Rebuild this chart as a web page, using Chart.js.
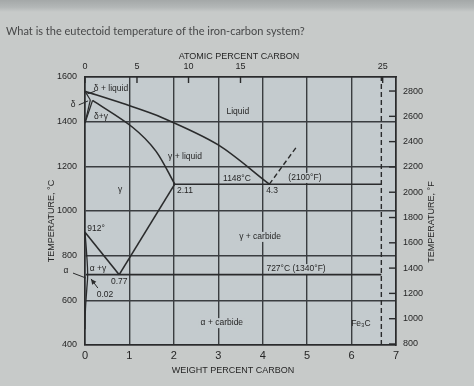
<!DOCTYPE html>
<html><head><meta charset="utf-8">
<script src="https://cdn.jsdelivr.net/npm/chart.js@4"></script>
<style>html,body{margin:0;padding:0;background:#c7cac9;overflow:hidden}canvas{display:block}</style>
</head><body>
<canvas id="c" width="474" height="386"></canvas>
<script>
// ---- tick labels ----
const weightTicks = [0,1,2,3,4,5,6,7];
const celsiusTicks = [400,600,800,1000,1200,1400,1600];
const fahrenheitTicks = [800,1000,1200,1400,1600,1800,2000,2200,2400,2600,2800];
const atomicLabels = ['0','5','10','15','25'];
const atomicWt = [0,1.17,2.33,3.5,6.7];

// ---- phase boundaries (wt% C, °C) ----
const liquidusWt = [0,0.84,1.74,3.0,4.15];
const liquidusT  = [1536,1482,1418,1296,1120];
const solidusWt  = [0.17,1.07,1.6,2.02];
const solidusT   = [1495,1375,1267,1120];
const deltaSolidusWt = [0,0.12];
const deltaSolidusT  = [1536,1497];
const deltaGammaAWt = [0.12,0];
const deltaGammaAT  = [1497,1394];
const deltaGammaBWt = [0.17,0];
const deltaGammaBT  = [1495,1394];
const eutecticWt = [2.02,6.67];
const eutecticT  = [1120,1120];
const eutectoidWt = [0.02,6.67];
const eutectoidT  = [715,715];
const a3Wt = [0,0.77];
const a3T  = [905,715];
const acmWt = [0.77,2.02];
const acmT  = [715,1120];
const alphaSolvusWt = [0,0.04,0.06,0.04,0.01,0];
const alphaSolvusT  = [905,800,715,650,560,470];
const cementiteLiqWt = [4.15,4.76];
const cementiteLiqT  = [1120,1287];
const cementiteWt = [6.67,6.67];
const cementiteT  = [400,1600];

// ---- annotations ----
const labelTexts = ['δ + liquid','δ+γ','δ','Liquid','γ + liquid','γ','2.11','1148°C','4.3','(2100°F)','912°','α +γ','0.77','0.02','γ + carbide','727°C (1340°F)','α + carbide','Fe₃C','α'];
const labelWt = [0.585,0.36,-0.27,3.44,2.25,0.79,2.25,3.42,4.21,4.95,0.25,0.29,0.77,0.45,3.94,4.75,3.08,6.21,-0.43];
const labelT  = [1546,1421,1475,1443,1242,1094,1092,1143,1092,1148,919,744,683,624,884,740,498,494,731];
const labelBox = [false,false,false,false,false,false,false,false,true,true,false,false,false,false,true,true,true,false,false];
const leaderWt = [[-0.14,0.07],[0.23,0.05],[-0.27,0.02],[0.29,0.135]];
const leaderT  = [[1475,1493],[1537,1524],[722,700],[655,696]];

const pts = (xs, ys) => xs.map((x,i)=>({x:x, y:ys[i]}));
const LINE = '#2a2b2c', GRID = '#3a3d40', TXT = '#262626';
const PAGE = '#c7cac9', PLOT = '#c4cbce';
const FONT = '"Liberation Sans", Arial, sans-serif';

function ds(xs, ys, opt){
  return Object.assign({data: pts(xs,ys), showLine:true, pointRadius:0, borderColor:LINE, borderWidth:1.6, fill:false, tension:0}, opt||{});
}

const bgPlugin = {
  id:'bg',
  beforeDraw(chart){
    const c = chart.ctx, a = chart.chartArea;
    c.save();
    c.fillStyle = PAGE; c.fillRect(0,0,chart.width,chart.height);
    const g = c.createLinearGradient(0,0,0,12);
    g.addColorStop(0,'#a4a8a8'); g.addColorStop(0.6,'#b3b7b7'); g.addColorStop(1,PAGE);
    c.fillStyle = g; c.fillRect(0,0,chart.width,12);
    c.fillStyle = PLOT; c.fillRect(a.left,a.top,a.right-a.left,a.bottom-a.top);
    c.restore();
  },
  beforeDatasetsDraw(chart){
    const c = chart.ctx, xs = chart.scales.x, ys = chart.scales.y;
    c.save();
    c.font = '8.5px ' + FONT;
    c.textAlign='center'; c.textBaseline='middle';
    labelTexts.forEach((t,i)=>{
      const px = xs.getPixelForValue(labelWt[i]), py = ys.getPixelForValue(labelT[i]);
      if(labelBox[i]){
        const w = c.measureText(t).width;
        c.fillStyle = PLOT; c.fillRect(px-w/2-2, py-5, w+4, 10);
      }
      c.fillStyle = TXT;
      c.fillText(t, px, py);
    });
    c.strokeStyle = LINE; c.lineWidth = 1;
    leaderWt.forEach((l,i)=>{
      const x0 = xs.getPixelForValue(l[0]), y0 = ys.getPixelForValue(leaderT[i][0]);
      const x1 = xs.getPixelForValue(l[1]), y1 = ys.getPixelForValue(leaderT[i][1]);
      c.beginPath(); c.moveTo(x0,y0); c.lineTo(x1,y1); c.stroke();
      if(i===3){
        const ang = Math.atan2(y1-y0,x1-x0);
        c.fillStyle = LINE; c.beginPath();
        c.moveTo(x1,y1);
        c.lineTo(x1-6*Math.cos(ang-0.45), y1-6*Math.sin(ang-0.45));
        c.lineTo(x1-6*Math.cos(ang+0.45), y1-6*Math.sin(ang+0.45));
        c.closePath(); c.fill();
      }
    });
    c.restore();
  },
  afterDraw(chart){
    const c = chart.ctx, a = chart.chartArea;
    const xt = chart.scales.xTop, yf = chart.scales.yF;
    c.save();
    c.strokeStyle = LINE; c.lineWidth = 1.4;
    atomicWt.forEach(v=>{ const px = xt.getPixelForValue(v); c.beginPath(); c.moveTo(px,a.top); c.lineTo(px,a.top+6); c.stroke(); });
    fahrenheitTicks.forEach(v=>{ const py = yf.getPixelForValue(v); c.beginPath(); c.moveTo(a.right-7,py); c.lineTo(a.right,py); c.stroke(); });
    c.fillStyle = TXT; c.textAlign='center'; c.textBaseline='middle';
    c.font = '9px ' + FONT;
    c.fillText('ATOMIC PERCENT CARBON', 239, 57);
    c.fillText('WEIGHT PERCENT CARBON', 233, 371);
    c.save(); c.translate(52,221); c.rotate(-Math.PI/2); c.fillText('TEMPERATURE, °C',0,0); c.restore();
    c.save(); c.translate(432,222); c.rotate(-Math.PI/2); c.fillText('TEMPERATURE, °F',0,0); c.restore();
    c.fillStyle = '#474849'; c.textAlign='left';
    c.font = '11px Lato, sans-serif';
    c.fillText('What is the eutectoid temperature of the iron-carbon system?', 6, 31);
    c.restore();
  }
};

const plain = v => String(v);

new Chart(document.getElementById('c'), {
  type:'scatter',
  data:{ datasets:[
    ds(liquidusWt, liquidusT, {tension:0.3}),
    ds(solidusWt, solidusT, {tension:0.3}),
    ds(deltaSolidusWt, deltaSolidusT, {borderWidth:1.2}),
    ds(deltaGammaAWt, deltaGammaAT, {borderWidth:1.2}),
    ds(deltaGammaBWt, deltaGammaBT, {borderWidth:1.2}),
    ds(eutecticWt, eutecticT),
    ds(eutectoidWt, eutectoidT),
    ds(a3Wt, a3T),
    ds(acmWt, acmT),
    ds(alphaSolvusWt, alphaSolvusT, {tension:0.4, borderWidth:1.3}),
    ds(cementiteLiqWt, cementiteLiqT, {borderDash:[5,3], borderWidth:1.4}),
    ds(cementiteWt, cementiteT, {borderDash:[5,3], borderWidth:1.4})
  ]},
  options:{
    responsive:false, animation:false, devicePixelRatio:1,
    layout:{padding:0},
    plugins:{legend:{display:false}, tooltip:{enabled:false}, title:{display:false}},
    scales:{
      x:{type:'linear', position:'bottom', min:0, max:7,
        afterBuildTicks(s){ s.ticks = weightTicks.map(v=>({value:v})); },
        afterFit(s){ s.height = 41; },
        ticks:{autoSkip:false, maxRotation:0, padding:4, color:TXT, font:{family:FONT, size:11}, callback:plain},
        grid:{color:GRID, lineWidth:1.4, drawTicks:false},
        border:{color:LINE, width:1.6}},
      xTop:{type:'linear', position:'top', min:0, max:7,
        afterBuildTicks(s){ s.ticks = atomicWt.map(v=>({value:v})); },
        afterFit(s){ s.height = 77; },
        ticks:{autoSkip:false, maxRotation:0, padding:5, color:TXT, font:{family:FONT, size:9},
          callback:(v,i)=>atomicLabels[i]},
        grid:{drawOnChartArea:false, drawTicks:false},
        border:{color:LINE, width:1.6}},
      y:{type:'linear', position:'left', min:400, max:1600,
        afterBuildTicks(s){ s.ticks = celsiusTicks.map(v=>({value:v})); },
        afterFit(s){ s.width = 85; },
        ticks:{padding:8, color:TXT, font:{family:FONT, size:9}, callback:plain},
        grid:{color:GRID, lineWidth:1.4, drawTicks:false},
        border:{color:LINE, width:1.6}},
      yF:{type:'linear', position:'right', min:792, max:2911,
        afterBuildTicks(s){ s.ticks = fahrenheitTicks.map(v=>({value:v})); },
        afterFit(s){ s.width = 78; },
        ticks:{padding:7, color:TXT, font:{family:FONT, size:9}, callback:plain},
        grid:{drawOnChartArea:false, drawTicks:false},
        border:{color:LINE, width:1.6}}
    }
  },
  plugins:[bgPlugin]
});
</script>
</body></html>
